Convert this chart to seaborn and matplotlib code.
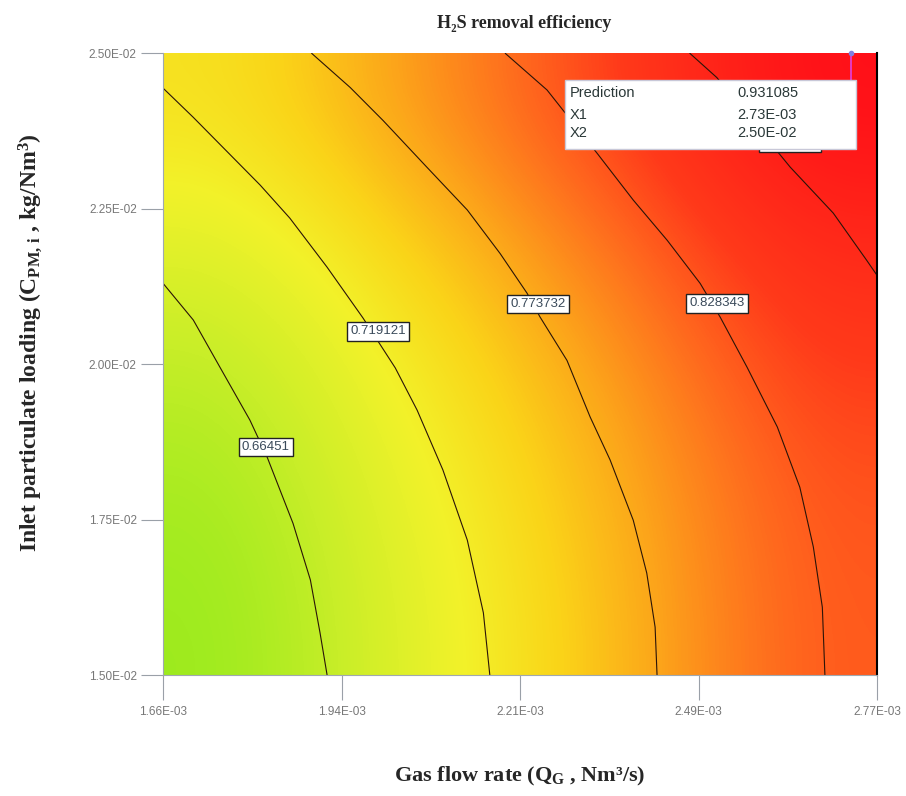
import numpy as np
import pandas as pd
import seaborn as sns
import matplotlib.pyplot as plt
from matplotlib.colors import LinearSegmentedColormap
from matplotlib.patches import Rectangle

# Style
sns.set_style("ticks")
plt.rcParams['font.family'] = ['Liberation Sans', 'DejaVu Sans']
plt.rcParams['mathtext.fontset'] = 'custom'
plt.rcParams['mathtext.rm'] = 'Liberation Serif:bold'
plt.rcParams['mathtext.it'] = 'Liberation Serif:bold'
plt.rcParams['mathtext.bf'] = 'Liberation Serif:bold'

# Axes ticks
gas_ticks = [1.66e-3, 1.9375e-3, 2.215e-3, 2.4925e-3, 2.77e-3]
gas_labels = ['1.66E-03', '1.94E-03', '2.21E-03', '2.49E-03', '2.77E-03']
load_ticks = [1.50e-2, 1.75e-2, 2.00e-2, 2.25e-2, 2.50e-2]
load_labels = ['1.50E-02', '1.75E-02', '2.00E-02', '2.25E-02', '2.50E-02']

# Efficiency read at the tick crossings (rows: loading low->high, cols: gas flow low->high)
eff_grid = [
    [0.610, 0.670, 0.729, 0.787, 0.845],
    [0.621, 0.682, 0.739, 0.794, 0.850],
    [0.645, 0.704, 0.758, 0.814, 0.869],
    [0.686, 0.737, 0.791, 0.846, 0.897],
    [0.728, 0.782, 0.832, 0.886, 0.939],
]

# Contour lines
levels = ['0.66451', '0.719121', '0.773732', '0.828343', '0.882954']
c1_x = [1.660, 1.707, 1.749, 1.795, 1.822, 1.862, 1.889, 1.904, 1.915]
c1_y = [2.130, 2.071, 1.994, 1.910, 1.850, 1.744, 1.653, 1.568, 1.500]
c2_x = [1.660, 1.707, 1.811, 1.857, 1.915, 1.971, 2.021, 2.055, 2.095, 2.133, 2.158, 2.168]
c2_y = [2.444, 2.397, 2.288, 2.235, 2.156, 2.074, 1.994, 1.926, 1.830, 1.717, 1.600, 1.500]
c3_x = [1.891, 1.951, 2.002, 2.070, 2.133, 2.184, 2.226, 2.246, 2.288, 2.324, 2.355, 2.391, 2.412, 2.425, 2.428]
c3_y = [2.500, 2.445, 2.392, 2.317, 2.248, 2.178, 2.114, 2.076, 2.006, 1.915, 1.846, 1.749, 1.664, 1.577, 1.500]
c4_x = [2.192, 2.257, 2.335, 2.391, 2.444, 2.495, 2.526, 2.568, 2.615, 2.650, 2.671, 2.685, 2.689]
c4_y = [2.500, 2.441, 2.339, 2.264, 2.199, 2.130, 2.076, 1.995, 1.899, 1.802, 1.706, 1.609, 1.500]
c5_x = [2.479, 2.521, 2.635, 2.702, 2.754, 2.770]
c5_y = [2.500, 2.461, 2.317, 2.243, 2.167, 2.143]
contours_x = [c1_x, c2_x, c3_x, c4_x, c5_x]
contours_y = [c1_y, c2_y, c3_y, c4_y, c5_y]

# Contour label positions
label_x = [1.820, 1.994, 2.243, 2.521, 2.635]
label_y = [1.867, 2.053, 2.097, 2.098, 2.357]

# Prediction flag
pred_names = ['Prediction', 'X1', 'X2']
pred_values = ['0.931085', '2.73E-03', '2.50E-02']
pred_x, pred_y = 2.73e-3, 2.50e-2

cmap = LinearSegmentedColormap.from_list('eff', [
    (0.00, '#92ea1c'), (0.16, '#c8ee28'), (0.31, '#f2f22a'), (0.43, '#fad418'),
    (0.54, '#fca81a'), (0.68, '#ff6a1e'), (0.79, '#ff3a1a'), (1.00, '#ff0e18')])

fig = plt.figure(figsize=(9.06, 7.96), dpi=100)
ax = fig.add_axes([0.180, 0.152, 0.788, 0.781])

ax.imshow(np.array(eff_grid), extent=[1.66e-3, 2.77e-3, 1.5e-2, 2.5e-2], origin='lower',
          aspect='auto', interpolation='bicubic', cmap=cmap, vmin=0.60, vmax=0.94, zorder=0)

for xs, ys in zip(contours_x, contours_y):
    df = pd.DataFrame({'x': np.array(xs) * 1e-3, 'y': np.array(ys) * 1e-2})
    sns.lineplot(data=df, x='x', y='y', sort=False, estimator=None, color='#2a1408',
                 lw=0.8, ax=ax, zorder=2)

for lx, ly, txt in zip(label_x, label_y, levels):
    ax.text(lx * 1e-3, ly * 1e-2, txt, ha='center', va='center', fontsize=9.5,
            color='#3a4a5a', zorder=3,
            bbox=dict(boxstyle='square,pad=0.25', fc='white', ec='#222222', lw=1.0))

# Prediction flag
ax.plot([pred_x, pred_x], [pred_y, 2.4566e-2], color='#e040e0', lw=1.2, zorder=4)
ax.plot([pred_x], [pred_y], marker='o', ms=3, color='#8080e0', zorder=4, clip_on=False)
ax.add_patch(Rectangle((0.563, 0.8457), 0.4076, 0.1109, transform=ax.transAxes,
                       fc='white', ec='#c8c8d8', lw=1.0, zorder=5))
for i, (nm, val) in enumerate(zip(pred_names, pred_values)):
    yy = [0.9357, 0.9003, 0.8714][i]
    ax.text(0.570, yy, nm, transform=ax.transAxes, fontsize=10.5, color='#2a3838',
            va='center', ha='left', zorder=6)
    ax.text(0.804, yy, val, transform=ax.transAxes, fontsize=10.5, color='#2a3838',
            va='center', ha='left', zorder=6)

ax.set_xlim(1.66e-3, 2.77e-3)
ax.set_ylim(1.5e-2, 2.5e-2)
ax.set_xticks(gas_ticks)
ax.set_xticklabels(gas_labels)
ax.set_yticks(load_ticks)
ax.set_yticklabels(load_labels)
ax.set_xlabel('')
ax.set_ylabel('')
ax.tick_params(axis='x', length=18, width=0.8, color='#9aa0a8', pad=4,
               labelsize=8.5, labelcolor='#777777')
ax.tick_params(axis='y', length=16, width=0.8, color='#9aa0a8', pad=3,
               labelsize=8.5, labelcolor='#777777')
for lbl in ax.get_xticklabels() + ax.get_yticklabels():
    lbl.set_fontfamily(['Liberation Sans Narrow', 'Liberation Sans', 'DejaVu Sans'])

ax.spines['top'].set_visible(False)
ax.spines['right'].set_color('black')
ax.spines['right'].set_linewidth(1.5)
for s in ['left', 'bottom']:
    ax.spines[s].set_color('#a0a8b0')
    ax.spines[s].set_linewidth(0.8)

serif = ['Liberation Serif', 'DejaVu Serif']
fig.text(0.579, 0.971, 'H₂S removal efficiency', ha='center', va='center',
         fontsize=13, fontweight='bold', family=serif)
fig.text(0.574, 0.024, r'Gas flow rate ($Q_{G}$ , Nm³/s)', ha='center', va='center',
         fontsize=16, fontweight='bold', family=serif)
fig.text(0.033, 0.570, r'Inlet particulate loading ($C_{PM,\,i}$ , kg/Nm$^{3}$)',
         ha='center', va='center', rotation=90, fontsize=17, fontweight='bold', family=serif)

fig.savefig('out.png', dpi=100)
